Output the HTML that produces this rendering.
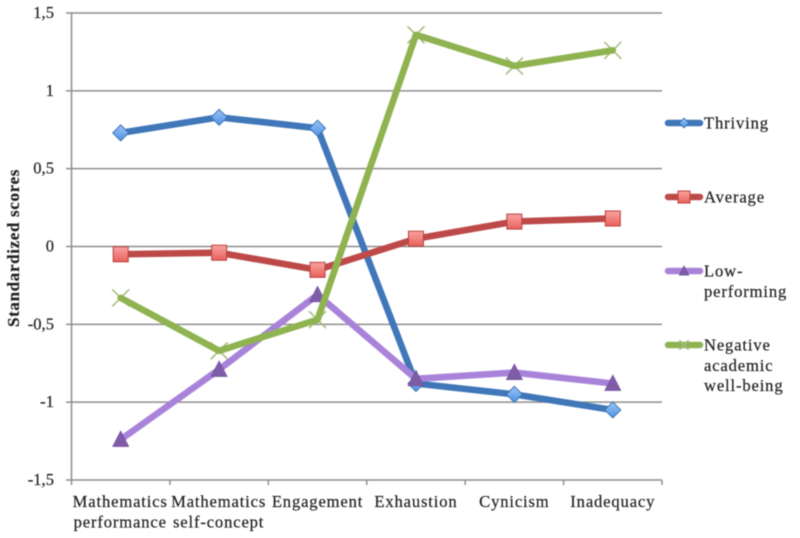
<!DOCTYPE html>
<html>
<head>
<meta charset="utf-8">
<style>
html,body{margin:0;padding:0;background:#fff;width:800px;height:538px;overflow:hidden}
svg{display:block;filter:blur(.45px)}
text{font-family:"Liberation Serif",serif;fill:#222;font-size:16.6px;letter-spacing:.85px;stroke:#222;stroke-width:.2px}
</style>
</head>
<body>
<svg id="chart" width="800" height="538" viewBox="0 0 800 538" xmlns="http://www.w3.org/2000/svg">
<defs>
<linearGradient id="blueFill" x1="0" y1="0" x2="0" y2="1"><stop offset="0" stop-color="#9cc4f5"/><stop offset="1" stop-color="#4f93e6"/></linearGradient>
<linearGradient id="redFill" x1="0" y1="0" x2="0" y2="1"><stop offset="0" stop-color="#f9a3a0"/><stop offset="1" stop-color="#e8605c"/></linearGradient>
</defs>
</svg>
<script>
var categoryLines = [["Mathematics","performance"],["Mathematics","self-concept"],["Engagement"],["Exhaustion"],["Cynicism"],["Inadequacy"]];
var yTicks = [1.5,1,0.5,0,-0.5,-1,-1.5];
var yTickLabels = ["1,5","1","0,5","0","-0,5","-1","-1,5"];
var thriving = [0.73,0.83,0.76,-0.88,-0.95,-1.05];
var average = [-0.05,-0.04,-0.15,0.05,0.16,0.18];
var lowPerforming = [-1.24,-0.79,-0.31,-0.85,-0.81,-0.88];
var negativeWellBeing = [-0.33,-0.67,-0.47,1.36,1.16,1.26];
var legendLabels = [["Thriving"],["Average"],["Low-","performing"],["Negative","academic","well-being"]];

var NS = "http://www.w3.org/2000/svg";
var svg = document.getElementById("chart");
var plotLeft = 71.5, plotRight = 662, plotTop = 13, plotBottom = 480;
var yMax = yTicks[0], yMin = yTicks[yTicks.length-1];
function yScale(v){ return plotTop + (yMax - v) / (yMax - yMin) * (plotBottom - plotTop); }
function xEdge(i){ return plotLeft + i * (plotRight - plotLeft) / categoryLines.length; }
function xScale(i){ return xEdge(i + 0.5); }
function make(tag, attrs, parent){
  var el = document.createElementNS(NS, tag);
  for (var k in attrs) el.setAttribute(k, attrs[k]);
  (parent || svg).appendChild(el);
  return el;
}
var AXIS = "#8e8e8e";

// gridlines and y ticks
yTicks.forEach(function(t, i){
  var y = yScale(t);
  var g = make("line", {x1:66, x2:plotRight, y1:y, y2:y, stroke:AXIS, "stroke-width":1.5});
  
  
  var lab = make("text", {x:54, y:y + 5, "text-anchor":"end", style:"letter-spacing:0"});
  lab.textContent = yTickLabels[i];
  
  
});
// axes
var yAxis = make("line", {x1:plotLeft, x2:plotLeft, y1:plotTop, y2:plotBottom + 5, stroke:AXIS, "stroke-width":1.5});


for (var i = 1; i <= categoryLines.length; i++){
  var tick = make("line", {x1:xEdge(i), x2:xEdge(i), y1:plotBottom, y2:plotBottom + 5, stroke:AXIS, "stroke-width":1.5});
  
  
}
// category labels
categoryLines.forEach(function(lines, i){
  lines.forEach(function(s, j){
    var t = make("text", {x:xScale(i) - (i < 2 ? 0.5 : 0), y:507 + j * 20.5, "text-anchor":"middle"});
    t.textContent = s;
    
    
  });
});
// y axis title
var title = make("text", {transform:"translate(19,248) rotate(-90)", "text-anchor":"middle", "font-weight":"bold", style:"font-size:17px;letter-spacing:.65px"});
title.textContent = "Standardized scores";



// markers
function marker(kind, x, y, scale, parent){
  var s = scale;
  if (kind === "diamond"){
    make("polygon", {points:[x,y-8*s,x+8*s,y,x,y+8*s,x-8*s,y].join(" "), fill:"url(#blueFill)", stroke:"#3f74b4", "stroke-width":1}, parent);
  } else if (kind === "square"){
    make("rect", {x:x-7.5*s, y:y-7.5*s, width:15*s, height:15*s, fill:"url(#redFill)", stroke:"#b8413e", "stroke-width":1}, parent);
  } else if (kind === "triangle"){
    make("polygon", {points:[x,y-8.5*s,x+8*s,y+7*s,x-8*s,y+7*s].join(" "), fill:"#7f5ca8", stroke:"#7350a0", "stroke-width":.7}, parent);
  } else {
    make("path", {d:"M"+(x-8.5*s)+" "+(y-8.5*s)+"L"+(x+8.5*s)+" "+(y+8.5*s)+"M"+(x-8.5*s)+" "+(y+8.5*s)+"L"+(x+8.5*s)+" "+(y-8.5*s), stroke:"#a3ba7e", "stroke-width":1.5, fill:"none"}, parent);
  }
}
// series, in draw order
var seriesNames = ["thriving","average","low-performing","negative-academic-well-being"];
var seriesValues = [thriving, average, lowPerforming, negativeWellBeing];
var seriesColors = ["#4077b8","#bd4a48","#a983d9","#8fb350"];
var seriesMarkers = ["diamond","square","triangle","x"];
seriesValues.forEach(function(vals, k){
  var g = make("g", {});
  
  
  vals.forEach(function(v, i){ if (seriesMarkers[k] === "x") marker("x", xScale(i), yScale(v), 1, g); });
  var pts = vals.map(function(v, i){ return xScale(i) + "," + yScale(v); }).join(" ");
  make("polyline", {points:pts, fill:"none", stroke:seriesColors[k], "stroke-width":6.6, "stroke-linejoin":"round", "stroke-linecap":"round"}, g);
  vals.forEach(function(v, i){ if (seriesMarkers[k] !== "x") marker(seriesMarkers[k], xScale(i), yScale(v), 1, g); });
});
// legend
var legendY = [123, 197, 271, 345];
legendLabels.forEach(function(lines, k){
  var g = make("g", {});
  
  
  var y = legendY[k];
  make("line", {x1:668, x2:700, y1:y, y2:y, stroke:seriesColors[k], "stroke-width":6.5, "stroke-linecap":"round"}, g);
  marker(seriesMarkers[k], 684, y, seriesMarkers[k] === "square" ? 0.8 : (seriesMarkers[k] === "x" ? 0.55 : 0.6), g);
  lines.forEach(function(s, j){
    var t = make("text", {x:704, y:y + 5.5 + j * 20.3}, g);
    t.textContent = s;
  });
});
</script>
</body>
</html>
